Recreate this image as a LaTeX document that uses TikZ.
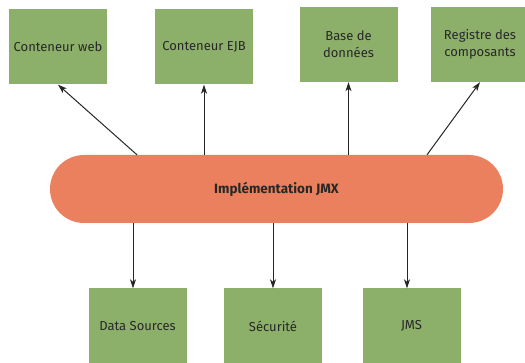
\documentclass[tikz,border=0pt]{standalone}
\usepackage{fontspec}
\setmainfont{Fira Sans}
\usepackage{tikz}
\usetikzlibrary{arrows.meta, calc}
\usepackage{xcolor}
\definecolor{boxgreen}{RGB}{140,175,106}
\definecolor{bandorange}{RGB}{234,128,93}
\definecolor{textdark}{RGB}{40,40,40}
\tikzset{
    module/.style={fill=boxgreen, minimum width=98pt, minimum height=75pt, align=center, font=\fontsize{13}{17}\selectfont, text=textdark, inner sep=0pt},
    bande/.style={fill=bandorange, minimum width=453pt, minimum height=68pt, rounded corners=34pt, font=\fontsize{13.5}{17}\selectfont\bfseries, text=textdark},
    fleche/.style={-{Stealth[length=9pt, width=6pt, inset=2.5pt]}, draw=black!85, line width=1pt}
}

\begin{document}
\begin{tikzpicture}[x=1pt, y=-1pt]
    \useasboundingbox (0,0) rectangle (525,363);
    \node[module] (web) at (58,47) {Conteneur web};
    \node[module] (ejb) at (204,47) {Conteneur EJB};
    \node[module] (bdd) at (348.5,44.5) {Base de\\données};
    \node[module] (reg) at (480,44.5) {Registre des\\composants};
    \node[bande] (jmx) at (276.5,189) {Implémentation JMX};
    \node[module] (ds) at (137.5,326) {Data Sources};
    \node[module] (secu) at (273,326) {Sécurité};
    \node[module] (jms) at (411.5,326) {JMS};
    \draw[fleche] (jmx.north -| 137,0) -- (web.south);
    \draw[fleche] (jmx.north -| ejb) -- (ejb.south);
    \draw[fleche] (jmx.north -| bdd) -- (bdd.south);
    \draw[fleche] (jmx.north -| 427,0) -- (reg.south);
    \draw[fleche] (jmx.south -| 133,0) -- (ds.north -| 133,0);
    \draw[fleche] (jmx.south -| secu) -- (secu.north);
    \draw[fleche] (jmx.south -| 407,0) -- (jms.north -| 407,0);
\end{tikzpicture}
\end{document}
